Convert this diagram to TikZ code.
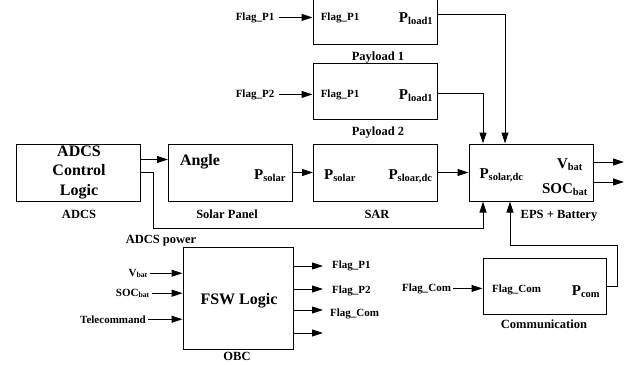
\documentclass[tikz,border=0pt]{standalone}
\usepackage{fontspec}
\setmainfont{Liberation Serif}
\usetikzlibrary{arrows.meta}

\begin{document}
\begin{tikzpicture}[x=1pt, y=-1pt,
  every node/.style={font=\bfseries, inner sep=2pt},
  blk/.style={draw, line width=1pt, minimum width=124pt, minimum height=57pt},
  big/.style={font=\fontsize{16}{19.5}\selectfont\bfseries},
  sig/.style={font=\fontsize{15}{18}\selectfont\bfseries},
  lbl/.style={font=\fontsize{12.5}{15}\selectfont\bfseries},
  sml/.style={font=\fontsize{11}{13}\selectfont\bfseries},
  conn/.style={-{Triangle[length=11pt,width=7pt]}, line width=1pt}
]
\useasboundingbox (0,0) rectangle (628,364);

% Payloads
\node[blk, minimum height=56pt] (pay1) at (375,16) {};
\node[sml, anchor=base] (p1flag) at (340,20) {Flag\_P1};
\node[sig, anchor=base] (p1out) at (416,22) {P\textsubscript{load1}};
\node[lbl, anchor=base] (pay1lbl) at (378,60) {Payload 1};
\node[sml, anchor=base] (fp1in) at (255,20) {Flag\_P1};

\node[blk, minimum height=56pt] (pay2) at (375,91) {};
\node[sml, anchor=base] (p2flag) at (340,97) {Flag\_P1};
\node[sig, anchor=base] (p2out) at (416,99) {P\textsubscript{load1}};
\node[lbl, anchor=base] (pay2lbl) at (378,135) {Payload 2};
\node[sml, anchor=base] (fp2in) at (255,97) {Flag\_P2};

% Main chain
\node[blk] (adcs) at (78,172.5) {};
\node[big, align=center] (adcstxt) at (79,172) {ADCS\\Control\\Logic};
\node[lbl, anchor=base] (adcslbl) at (79,218) {ADCS};

\node[blk] (solar) at (230.5,172.5) {};
\node[big, anchor=base] (angl) at (200,165) {Angle};
\node[sig, anchor=base] (sol1) at (270,179) {P\textsubscript{solar}};
\node[lbl, anchor=base] (solarlbl) at (227,218) {Solar Panel};

\node[blk] (sar) at (375.5,172.5) {};
\node[sig, anchor=base] (sar1) at (340,179) {P\textsubscript{solar}};
\node[sig, anchor=base] (sar2) at (410.5,179) {P\textsubscript{sloar,dc}};
\node[lbl, anchor=base] (sarlbl) at (377,218) {SAR};

\node[blk] (eps) at (531,172.5) {};
\node[sig, anchor=base] (eps1) at (501.5,178) {P\textsubscript{solar,dc}};
\node[sig, anchor=base] (vbat) at (570,168) {V\textsubscript{bat}};
\node[sig, anchor=base] (socbat) at (565,193) {SOC\textsubscript{bat}};
\node[lbl, anchor=base] (epslbl) at (559,218) {EPS + Battery};
\coordinate (vout) at (624,162);
\coordinate (socout) at (624,182);

\node[lbl, anchor=base] (pwrlbl) at (161,243) {ADCS power};

% OBC
\node[blk, minimum width=110pt, minimum height=102pt] (obc) at (238,298) {};
\node[big, anchor=base] (fsw) at (239,304) {FSW Logic};
\node[lbl, anchor=base] (obclbl) at (237,360) {OBC};
\node[sml, anchor=base east] (vbin) at (150,276) {V\textsubscript{bat}};
\node[sml, anchor=base east] (socin) at (152,296) {SOC\textsubscript{bat}};
\node[sml, anchor=base east] (tcin) at (148,323) {Telecommand};
\coordinate (o1) at (323,266);
\coordinate (o2) at (323,289);
\coordinate (o3) at (323,310);
\coordinate (o4) at (323,333);
\node[sml, anchor=base west] (of1) at (330,268) {Flag\_P1};
\node[sml, anchor=base west] (of2) at (330,293) {Flag\_P2};
\node[sml, anchor=base west] (of3) at (328,316) {Flag\_Com};

% Communication
\node[blk, minimum width=123pt, minimum height=56pt] (comm) at (544.5,286) {};
\node[sml, anchor=base] (cflag) at (516.5,292) {Flag\_Com};
\node[sig, anchor=base] (pcom) at (586,295) {P\textsubscript{com}};
\node[lbl, anchor=base] (commlbl) at (544,328) {Communication};
\node[sml, anchor=base] (fcin) at (426.5,291) {Flag\_Com};

% Connections
\draw[conn] ([xshift=3pt]fp1in.east) -- (pay1.west |- fp1in.east);
\draw[conn] ([xshift=3pt]fp2in.east) -- (pay2.west |- fp2in.east);
\draw[conn] ([yshift=2pt]pay1.east) -| ([xshift=-26pt]eps.north);
\draw[conn] ([yshift=-2pt]pay2.east) -| ([xshift=-48pt]eps.north);
\draw[conn] ([yshift=13pt]adcs.east) -- ([yshift=13pt]solar.west);
\draw[conn] (solar) -- (sar);
\draw[conn] (sar) -- (eps);
\draw[conn] (eps.east |- vout) -- (vout);
\draw[conn] (eps.east |- socout) -- (socout);
\draw[conn] (adcs.east) -- ++(13,0) -- ++(0,55.5) -| ([xshift=-48pt]eps.south);
\draw[conn] (comm.east) -- ++(11,0) -- ++(0,-41) -| ([xshift=-21pt]eps.south);
\draw[conn] (vbin.east) -- (obc.west |- vbin.east);
\draw[conn] (socin.east) -- (obc.west |- socin.east);
\draw[conn] (tcin.east) -- (obc.west |- tcin.east);
\draw[conn] (obc.east |- o1) -- (o1);
\draw[conn] (obc.east |- o2) -- (o2);
\draw[conn] (obc.east |- o3) -- (o3);
\draw[conn] (obc.east |- o4) -- (o4);
\draw[conn] (fcin.east) -- (comm.west |- fcin.east);

\end{tikzpicture}
\end{document}
